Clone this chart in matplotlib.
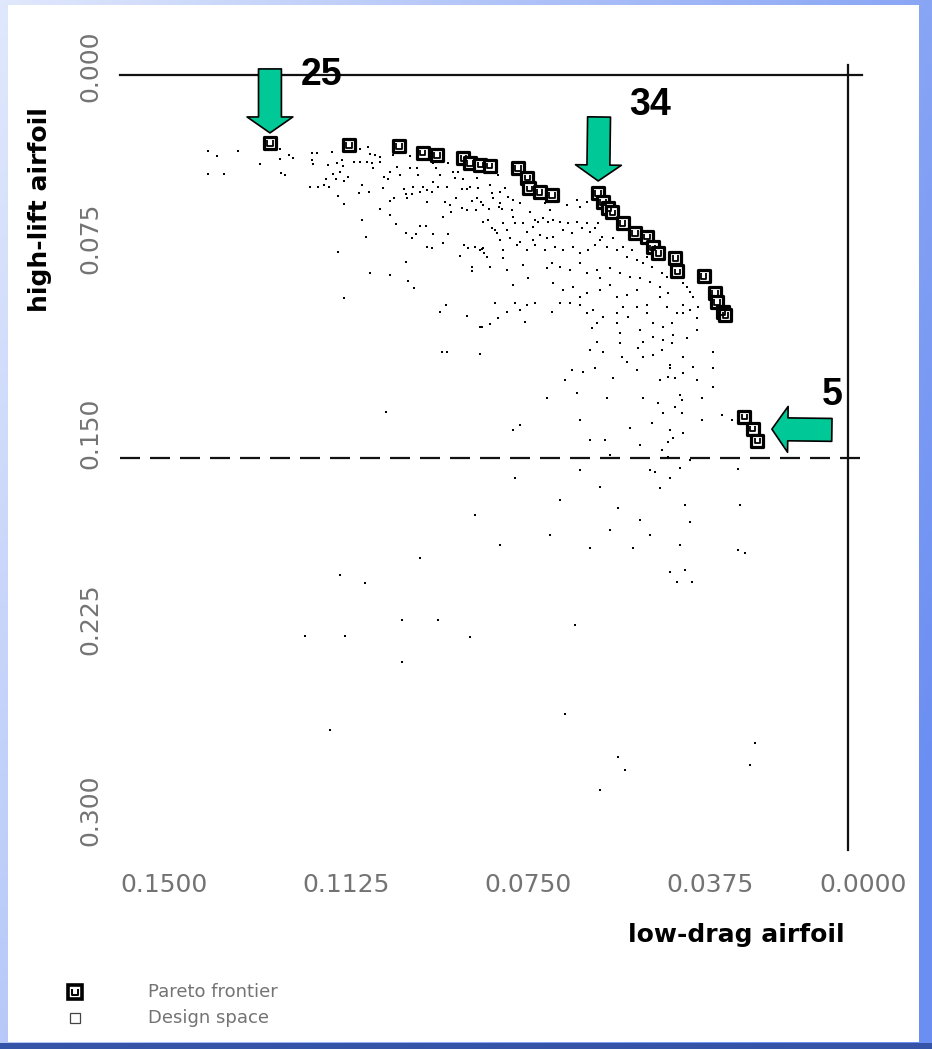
import matplotlib.pyplot as plt
import numpy as np
from matplotlib.path import Path
from matplotlib.patches import Rectangle

# Pareto frontier: low-drag objective vs high-lift objective
pareto_drag = [0.1191, 0.1028, 0.0925, 0.0876, 0.0847, 0.0793, 0.0779, 0.0758, 0.0738,
               0.0680, 0.0661, 0.0657, 0.0635, 0.0610, 0.0515, 0.0505, 0.0494, 0.0486,
               0.0464, 0.0439, 0.0414, 0.0402, 0.0391, 0.0356, 0.0352, 0.0297, 0.0274,
               0.0270, 0.0258, 0.0253, 0.0214, 0.0196, 0.0187]
pareto_lift = [0.0266, 0.0274, 0.0278, 0.0305, 0.0313, 0.0325, 0.0345, 0.0352, 0.0356,
               0.0364, 0.0403, 0.0443, 0.0458, 0.0470, 0.0462, 0.0497, 0.0521, 0.0537,
               0.0580, 0.0619, 0.0634, 0.0674, 0.0697, 0.0717, 0.0768, 0.0787, 0.0854,
               0.0889, 0.0928, 0.0940, 0.1339, 0.1386, 0.1433]

# design space samples (drag, lift)
design_points = [
    (0.1319, 0.0298), (0.1300, 0.0317), (0.1257, 0.0298), (0.1319, 0.0388), (0.1286, 0.0388),
    (0.1212, 0.0349), (0.1170, 0.0290), (0.1170, 0.0329), (0.1152, 0.0313), (0.1144, 0.0325),
    (0.1168, 0.0384), (0.1160, 0.0392), (0.1104, 0.0305), (0.1094, 0.0305), (0.1104, 0.0333),
    (0.1102, 0.0349), (0.1109, 0.0439), (0.1092, 0.0439), (0.1080, 0.0431), (0.1069, 0.0439),
    (0.1063, 0.0302), (0.1071, 0.0352), (0.1053, 0.0345), (0.1043, 0.0333), (0.1041, 0.0356),
    (0.1061, 0.0388), (0.1055, 0.0407), (0.1047, 0.0380), (0.1038, 0.0415), (0.1030, 0.0399),
    (0.1076, 0.0407), (0.1051, 0.0474), (0.1038, 0.0505), (0.1051, 0.0693), (0.1038, 0.0873),
    (0.1018, 0.0341), (0.1005, 0.0290), (0.1005, 0.0341), (0.0989, 0.0282), (0.0985, 0.0309),
    (0.0975, 0.0313), (0.0991, 0.0341), (0.0981, 0.0345), (0.0979, 0.0364), (0.0964, 0.0321),
    (0.0964, 0.0341), (0.1001, 0.0431), (0.1008, 0.0462), (0.0987, 0.0458), (0.0956, 0.0399),
    (0.0948, 0.0407), (0.0958, 0.0443), (0.0937, 0.0313), (0.0929, 0.0360), (0.0944, 0.0380),
    (0.0923, 0.0392), (0.0915, 0.0446), (0.0911, 0.0466), (0.0902, 0.0317), (0.0902, 0.0364),
    (0.0888, 0.0364), (0.0886, 0.0392), (0.0896, 0.0439), (0.0898, 0.0466), (0.0882, 0.0458),
    (0.0876, 0.0439), (0.0867, 0.0450), (0.0859, 0.0309), (0.0855, 0.0345), (0.0849, 0.0364),
    (0.0855, 0.0419), (0.0857, 0.0458), (0.0841, 0.0392), (0.0845, 0.0439), (0.0826, 0.0439),
    (0.0824, 0.0345), (0.0814, 0.0380), (0.0810, 0.0403), (0.0804, 0.0380), (0.0793, 0.0407),
    (0.0795, 0.0446), (0.0785, 0.0446), (0.0779, 0.0439), (0.0764, 0.0403), (0.0762, 0.0443),
    (0.0748, 0.0384), (0.0738, 0.0431), (0.0734, 0.0462), (0.0731, 0.0482), (0.0721, 0.0392),
    (0.0719, 0.0517), (0.0944, 0.0493), (0.0935, 0.0482), (0.0964, 0.0525), (0.1001, 0.0568),
    (0.0944, 0.0548), (0.0931, 0.0584), (0.0993, 0.0634), (0.0909, 0.0482), (0.0911, 0.0619),
    (0.0898, 0.0638), (0.0890, 0.0623), (0.0882, 0.0591), (0.0870, 0.0591), (0.0867, 0.0497),
    (0.0855, 0.0623), (0.0830, 0.0497), (0.0820, 0.0509), (0.0834, 0.0556), (0.0824, 0.0623),
    (0.0818, 0.0537), (0.0808, 0.0482), (0.0795, 0.0521), (0.0785, 0.0529), (0.0775, 0.0493),
    (0.0766, 0.0529), (0.0764, 0.0482), (0.0756, 0.0497), (0.0752, 0.0576), (0.0740, 0.0525),
    (0.0734, 0.0599), (0.0723, 0.0619), (0.0834, 0.0658), (0.0867, 0.0674), (0.0857, 0.0678),
    (0.0799, 0.0709), (0.0791, 0.0666), (0.0783, 0.0678), (0.0769, 0.0674), (0.0754, 0.0681),
    (0.0750, 0.0697), (0.0775, 0.0752), (0.0775, 0.0768), (0.0738, 0.0752), (0.0911, 0.0732),
    (0.0985, 0.0775), (0.0944, 0.0783), (0.0907, 0.0807), (0.0894, 0.0834), (0.0828, 0.0901),
    (0.0841, 0.0928), (0.0785, 0.0944), (0.0727, 0.0893), (0.0721, 0.0952), (0.0754, 0.0987),
    (0.0738, 0.0975), (0.0837, 0.1085), (0.0826, 0.1085), (0.0758, 0.1093),
    (0.0717, 0.0458), (0.0707, 0.0443), (0.0701, 0.0478), (0.0690, 0.0490), (0.0752, 0.0509),
    (0.0717, 0.0501), (0.0713, 0.0525), (0.0692, 0.0529), (0.0676, 0.0501), (0.0655, 0.0537),
    (0.0645, 0.0568), (0.0614, 0.0529), (0.0624, 0.0501), (0.0579, 0.0509), (0.0558, 0.0490),
    (0.0552, 0.0517), (0.0538, 0.0497), (0.0742, 0.0568), (0.0727, 0.0607), (0.0711, 0.0580),
    (0.0690, 0.0556), (0.0703, 0.0607), (0.0686, 0.0580), (0.0670, 0.0580), (0.0661, 0.0615),
    (0.0649, 0.0595), (0.0639, 0.0576), (0.0628, 0.0560), (0.0618, 0.0576), (0.0608, 0.0568),
    (0.0593, 0.0576), (0.0587, 0.0607), (0.0577, 0.0580), (0.0569, 0.0619), (0.0558, 0.0576),
    (0.0548, 0.0599), (0.0538, 0.0580), (0.0532, 0.0615), (0.0521, 0.0599), (0.0515, 0.0580),
    (0.0507, 0.0634), (0.0635, 0.0627), (0.0620, 0.0638), (0.0608, 0.0634), (0.0649, 0.0646),
    (0.0676, 0.0654), (0.0696, 0.0638), (0.0717, 0.0646), (0.0752, 0.0678), (0.0711, 0.0685),
    (0.0711, 0.0717), (0.0682, 0.0666), (0.0661, 0.0685), (0.0645, 0.0666), (0.0624, 0.0685),
    (0.0604, 0.0674), (0.0587, 0.0685), (0.0567, 0.0674), (0.0552, 0.0697), (0.0536, 0.0685),
    (0.0521, 0.0666), (0.0511, 0.0646), (0.0497, 0.0674), (0.0484, 0.0638), (0.0476, 0.0685),
    (0.0464, 0.0674), (0.0455, 0.0713), (0.0445, 0.0685), (0.0435, 0.0725), (0.0422, 0.0736),
    (0.0414, 0.0713), (0.0404, 0.0752), (0.0383, 0.0775), (0.0373, 0.0791), (0.0703, 0.0764),
    (0.0670, 0.0744), (0.0659, 0.0795), (0.0690, 0.0822), (0.0620, 0.0756), (0.0610, 0.0736),
    (0.0593, 0.0752), (0.0573, 0.0764), (0.0552, 0.0736), (0.0538, 0.0775), (0.0517, 0.0764),
    (0.0511, 0.0795), (0.0490, 0.0756), (0.0470, 0.0775), (0.0449, 0.0791), (0.0429, 0.0795),
    (0.0408, 0.0811), (0.0387, 0.0830), (0.0371, 0.0854), (0.0340, 0.0815), (0.0326, 0.0850),
    (0.0309, 0.0909), (0.0326, 0.0920), (0.0311, 0.0952), (0.0608, 0.0815), (0.0587, 0.0842),
    (0.0567, 0.0830), (0.0552, 0.0869), (0.0538, 0.0854), (0.0511, 0.0842), (0.0490, 0.0822),
    (0.0476, 0.0869), (0.0455, 0.0862), (0.0435, 0.0842), (0.0414, 0.0901), (0.0387, 0.0869),
    (0.0373, 0.0909), (0.0352, 0.0932), (0.0340, 0.0901), (0.0703, 0.0928), (0.0676, 0.0920),
    (0.0661, 0.0901), (0.0645, 0.0893), (0.0666, 0.0967), (0.0610, 0.0928), (0.0593, 0.0893),
    (0.0573, 0.0893), (0.0552, 0.0901), (0.0538, 0.0932), (0.0525, 0.0920), (0.0517, 0.0971),
    (0.0527, 0.0991), (0.0505, 0.0948), (0.0476, 0.0932), (0.0464, 0.0909), (0.0453, 0.0948),
    (0.0435, 0.0909), (0.0414, 0.0932), (0.0402, 0.0971), (0.0381, 0.0987), (0.0363, 0.0971),
    (0.0340, 0.0932), (0.0311, 0.0999), (0.0332, 0.1030), (0.0361, 0.1018), (0.0381, 0.1038),
    (0.0402, 0.1026), (0.0422, 0.1046), (0.0429, 0.0999), (0.0476, 0.0971), (0.0470, 0.1010),
    (0.0517, 0.1046), (0.0532, 0.1077), (0.0505, 0.1085), (0.0470, 0.1050), (0.0466, 0.1104),
    (0.0455, 0.1124), (0.0433, 0.1069), (0.0422, 0.1104), (0.0402, 0.1097), (0.0383, 0.1077),
    (0.0363, 0.1050), (0.0340, 0.1104), (0.0319, 0.1144), (0.0278, 0.1085), (0.0278, 0.1148),
    (0.0367, 0.1148), (0.0387, 0.1195), (0.0356, 0.1187), (0.0311, 0.1195), (0.0278, 0.1222),
    (0.0435, 0.1155), (0.0484, 0.1187), (0.0521, 0.1148), (0.0546, 0.1163), (0.0569, 0.1155),
    (0.0583, 0.1195), (0.0558, 0.1245), (0.0497, 0.1265), (0.0422, 0.1265), (0.0346, 0.1253),
    (0.0620, 0.1265), (0.0686, 0.0893), (0.0758, 0.0685), (0.0744, 0.0713), (0.0758, 0.0987),
    (0.0332, 0.0830), (0.0319, 0.0869),
    (0.0367, 0.1136), (0.0340, 0.1167), (0.0371, 0.1183), (0.0342, 0.1273), (0.0301, 0.1265),
    (0.0391, 0.1285), (0.0356, 0.1300), (0.0381, 0.1324), (0.0342, 0.1324), (0.0301, 0.1351),
    (0.0260, 0.1332), (0.0239, 0.1351), (0.0404, 0.1363), (0.0367, 0.1390), (0.0340, 0.1402),
    (0.0361, 0.1422), (0.0371, 0.1437), (0.0383, 0.1469), (0.0371, 0.1496), (0.0326, 0.1508),
    (0.0346, 0.1539), (0.0398, 0.1555),
    (0.0952, 0.1320), (0.0690, 0.1390), (0.0676, 0.1371), (0.0552, 0.1351), (0.0532, 0.1430),
    (0.0501, 0.1430), (0.0490, 0.1488), (0.0449, 0.1383), (0.0429, 0.1449), (0.0227, 0.1543),
    (0.0223, 0.1684), (0.0511, 0.1614), (0.0552, 0.1547), (0.0593, 0.1664), (0.0408, 0.1547),
    (0.0387, 0.1617), (0.0367, 0.1578), (0.0336, 0.1684), (0.0326, 0.1751), (0.0474, 0.1696),
    (0.0490, 0.1782), (0.0532, 0.1852), (0.0429, 0.1743), (0.0408, 0.1802), (0.0443, 0.1852),
    (0.0346, 0.1841), (0.0336, 0.1939), (0.0321, 0.1986), (0.0352, 0.1986), (0.0367, 0.1946),
    (0.0227, 0.1860), (0.0212, 0.1872), (0.0686, 0.1578), (0.0769, 0.1723), (0.0717, 0.1841),
    (0.0614, 0.1802), (0.0882, 0.1892), (0.1047, 0.1958), (0.0995, 0.1990), (0.1119, 0.2197),
    (0.1036, 0.2197), (0.0919, 0.2134), (0.0919, 0.2299), (0.0845, 0.2134), (0.0779, 0.2201),
    (0.0562, 0.2154), (0.1067, 0.2565), (0.0583, 0.2503), (0.0474, 0.2671), (0.0459, 0.2722),
    (0.0511, 0.2800), (0.0192, 0.2616), (0.0202, 0.2702),
]
design_drag, design_lift = np.array(design_points).T

xtick_vals = [0.15, 0.1125, 0.075, 0.0375, 0.0]
xtick_labels = ["0.1500", "0.1125", "0.0750", "0.0375", "0.0000"]
ytick_vals = [0.0, 0.075, 0.15, 0.225, 0.3]
ytick_labels = ["0.000", "0.075", "0.150", "0.225", "0.300"]

# run numbers that get an arrow: (index into pareto list, label)
callouts = [(0, "25"), (14, "34"), (31, "5")]

W, H = 932, 1049
fig = plt.figure(figsize=(W / 100, H / 100), dpi=100)

# blue slide background
bg = fig.add_axes([0, 0, 1, 1])
gx, gy = np.meshgrid(np.linspace(0, 1, 200), np.linspace(0, 1, 200))
t = np.clip(0.75 * gx + 0.35 * gy, 0, 1)[..., None]
c0 = np.array([0.88, 0.91, 0.99])
c1 = np.array([0.42, 0.56, 0.95])
bg.imshow(c0 + (c1 - c0) * t, extent=[0, 1, 0, 1], aspect="auto", origin="upper")
bg.add_patch(Rectangle((8 / W, 1 - 1042 / H), 911 / W, 1037 / H, color="white", lw=0))
bg.add_patch(Rectangle((0, 0), 1, 6 / H, color="#3554a8", lw=0))
bg.set_xlim(0, 1)
bg.set_ylim(0, 1)
bg.axis("off")

# plot area, x reversed and y inverted like the original
ax = fig.add_axes([100 / W, 1 - 870 / H, 780 / W, 830 / H])
ax.set_xlim(0.15412, -0.006593)
ax.set_ylim(0.31135, -0.013707)
ax.axis("off")

ax.plot([0.15, -0.0029], [0, 0], color="#111", lw=1.6)
ax.plot([0, 0], [-0.0039, 0.3035], color="#111", lw=1.6)
ax.plot([0.15, -0.0029], [0.15, 0.15], color="#111", lw=1.6, ls=(0, (9, 4.5)))

ax.scatter(design_drag, design_lift, marker="s", s=4.5, color="black", lw=0, zorder=3)

u_marker = Path([(-1, 1), (-1, -1), (1, -1), (1, 1)],
                [Path.MOVETO, Path.LINETO, Path.LINETO, Path.LINETO])
ax.scatter(pareto_drag, pareto_lift, marker="s", s=68, facecolor="white",
           edgecolor="black", lw=2.3, zorder=4)
ax.scatter(pareto_drag, pareto_lift, marker=u_marker, s=14, facecolor="none",
           edgecolor="black", lw=1.3, zorder=5)

# tick labels (dotted gray in the original)
tick_font = dict(family="DejaVu Sans", fontsize=18, color="#737373")
xlabel_pos = [0.15, 0.1125, 0.075, 0.0375, 0.0058]
for xp, lab in zip(xlabel_pos, xtick_labels):
    ax.text(xp, 0.3172, lab, ha="left", va="center", **tick_font)
ylabel_pos = [-0.0035, 0.0638, 0.1402, 0.2130, 0.2879]
for yp, lab in zip(ylabel_pos, ytick_labels):
    ax.text(0.1562, yp, lab, rotation=90, ha="center", va="center", **tick_font)

title_font = dict(family="DejaVu Sans", fontsize=18, fontweight="bold", color="black")
fig.text(40 / W, 1 - 210 / H, "high-lift airfoil", rotation=90, ha="center", va="center",
         **title_font)
fig.text(736 / W, 1 - 935 / H, "low-drag airfoil", ha="center", va="center", **title_font)

# green callout arrows
green = "#00C896"
arrow_geo = {"25": ((0, 74), 10, (52, 68)),
             "34": ((1, 76), 12, (52, 88)),
             "5": ((79, -1), 19, (79, 34))}
for idx, lab in callouts:
    pt = (pareto_drag[idx], pareto_lift[idx])
    tail, shrink, txt = arrow_geo[lab]
    ax.annotate("", xy=pt, xytext=tail, textcoords="offset pixels",
                arrowprops=dict(arrowstyle="simple,head_length=1.15,head_width=3.3,tail_width=1.65",
                                mutation_scale=10, fc=green, ec="black", lw=1.2,
                                shrinkA=0, shrinkB=shrink * 0.72),
                annotation_clip=False, zorder=6)
    ax.annotate(lab, xy=pt, xytext=txt, textcoords="offset pixels", ha="center",
                va="center", fontsize=27, fontweight="bold", family="Liberation Sans",
                annotation_clip=False, zorder=6)

# legend at the bottom
fx, fy1, fy2 = 75 / W, 1 - 992 / H, 1 - 1018 / H
fig.add_artist(plt.Line2D([fx], [fy1], marker="s", ms=9.5, mfc="white", mec="black", mew=2.6))
fig.add_artist(plt.Line2D([fx], [fy1], marker=u_marker, ms=4.5, mfc="none", mec="black", mew=1.4))
fig.add_artist(plt.Line2D([fx], [fy2], marker="s", ms=7, mfc="none", mec="#444", mew=0.9))
leg_font = dict(family="DejaVu Sans", fontsize=13, color="#737373", va="center", ha="left")
fig.text(148 / W, fy1, "Pareto frontier", **leg_font)
fig.text(148 / W, fy2, "Design space", **leg_font)

plt.savefig("out.png", dpi=100)
